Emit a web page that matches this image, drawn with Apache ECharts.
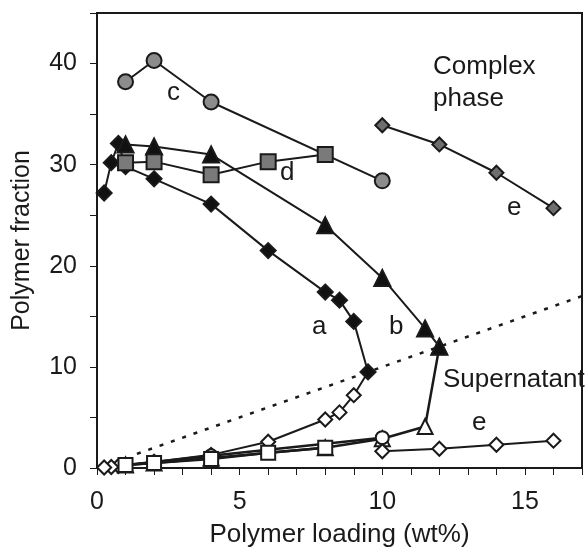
<!DOCTYPE html>
<html>
<head>
<meta charset="utf-8">
<script src="https://cdn.jsdelivr.net/npm/echarts@6/dist/echarts.min.js"></script>
<style>
  * { margin: 0; padding: 0; }
  html, body { width: 585px; height: 553px; background: #fff; }
  #main { width: 585px; height: 553px; }
</style>
</head>
<body>
<div id="main"></div>
<script>
// complex phase (filled) and supernatant (open) branches
var aX = [0.25, 0.5, 0.75, 1, 2, 4, 6, 8, 8.5, 9, 9.5];
var aY = [27.2, 30.2, 32.1, 29.8, 28.6, 26.1, 21.5, 17.4, 16.6, 14.5, 9.5];
var aSupX = [9.5, 9, 8.5, 8, 6, 4, 2, 1, 0.75, 0.5, 0.25];
var aSupY = [9.5, 7.2, 5.5, 4.8, 2.6, 1.3, 0.6, 0.3, 0.2, 0.1, 0.05];

var bX = [1, 2, 4, 8, 10, 11.5, 12];
var bY = [32.0, 31.8, 31.0, 24.0, 18.8, 13.8, 12.0];
var bSupX = [12, 11.5, 10, 8, 4, 2, 1];
var bSupY = [12.0, 4.1, 2.9, 2.0, 1.0, 0.5, 0.3];

var cX = [1, 2, 4, 10];
var cY = [38.2, 40.3, 36.2, 28.4];
var cSupX = [1, 2, 4, 10];
var cSupY = [0.3, 0.6, 1.2, 3.0];

var dX = [1, 2, 4, 6, 8];
var dY = [30.2, 30.3, 29.0, 30.3, 31.0];
var dSupX = [1, 2, 4, 6, 8];
var dSupY = [0.3, 0.5, 0.9, 1.5, 2.0];

var eX = [10, 12, 14, 16];
var eY = [33.9, 32.0, 29.2, 25.7];
var eSupX = [10, 12, 14, 16];
var eSupY = [1.65, 1.9, 2.3, 2.7];

// dotted diagonal y = x
var diagX = [1.4, 17];
var diagY = [1.4, 17];

function pts(xs, ys) {
  return xs.map(function (x, i) { return [x, ys[i]]; });
}

var font = '"Liberation Sans", Arial, sans-serif';
var ink = '#1a1a1a';

function line(name, xs, ys, symbol, size, fill, z, lw) {
  return {
    name: name,
    type: 'line',
    data: pts(xs, ys),
    symbol: symbol,
    symbolSize: size,
    showSymbol: true,
    z: z || 2,
    lineStyle: { color: ink, width: lw || 2 },
    itemStyle: { color: fill, borderColor: ink, borderWidth: 2 },
    emphasis: { disabled: true },
    animation: false
  };
}

var chart = echarts.init(document.getElementById('main'));
chart.setOption({
  animation: false,
  grid: {
    left: 97, right: 2, top: 13, bottom: 85,
    show: true, borderColor: ink, borderWidth: 2
  },
  xAxis: {
    type: 'value', min: 0, max: 17, interval: 1,
    name: 'Polymer loading (wt%)', nameLocation: 'middle', nameGap: 54,
    nameTextStyle: { fontFamily: font, fontSize: 26, color: ink },
    axisLine: { lineStyle: { color: ink, width: 2 } },
    axisTick: { inside: false, length: 7, lineStyle: { color: ink, width: 1 } },
    axisLabel: {
      margin: 22, fontFamily: font, fontSize: 25, color: ink,
      formatter: function (v) { return v % 5 === 0 ? String(v) : ''; }
    },
    splitLine: { show: false }
  },
  yAxis: {
    type: 'value', min: 0, max: 45, interval: 5,
    name: 'Polymer fraction', nameLocation: 'middle', nameGap: 62,
    nameTextStyle: { fontFamily: font, fontSize: 25, color: ink },
    axisLine: { lineStyle: { color: ink, width: 2 } },
    axisTick: { inside: false, length: 7, lineStyle: { color: ink, width: 1 } },
    axisLabel: {
      margin: 20, fontFamily: font, fontSize: 25, color: ink,
      formatter: function (v) { return v % 10 === 0 && v < 45 ? String(v) : ''; }
    },
    splitLine: { show: false }
  },
  series: [
    {
      type: 'line', data: pts(diagX, diagY), symbol: 'none', z: 1,
      lineStyle: { color: ink, width: 2.5, type: [4, 8] }, animation: false
    },
    line('a sup', aSupX, aSupY, 'diamond', 14, '#fff', 2, 2),
    line('b sup', bSupX, bSupY, 'triangle', 15, '#fff', 2, 2.5),
    line('c sup', cSupX, cSupY, 'circle', 13, '#fff', 2, 2.5),
    line('d sup', dSupX, dSupY, 'rect', 14, '#fff', 2, 2.5),
    line('e sup', eSupX, eSupY, 'diamond', 14, '#fff', 2, 2),
    line('a', aX, aY, 'diamond', 15, '#111', 3, 2),
    line('b', bX, bY, 'triangle', 16, '#111', 3, 2),
    line('c', cX, cY, 'circle', 15, '#8c8c8c', 3, 2),
    line('d', dX, dY, 'rect', 15, '#7a7a7a', 3, 2),
    line('e', eX, eY, 'diamond', 14, '#6e6e6e', 3, 2)
  ],
  graphic: [
    { type: 'text', left: 433, top: 51, style: { text: 'Complex\nphase', font: '26px ' + font, fill: ink, lineHeight: 32 } },
    { type: 'text', left: 443, top: 367, style: { text: 'Supernatant', font: '26px ' + font, fill: ink } },
    { type: 'text', left: 167, top: 80, style: { text: 'c', font: '26px ' + font, fill: ink } },
    { type: 'text', left: 280, top: 160, style: { text: 'd', font: '26px ' + font, fill: ink } },
    { type: 'text', left: 312, top: 314, style: { text: 'a', font: '26px ' + font, fill: ink } },
    { type: 'text', left: 389, top: 314, style: { text: 'b', font: '26px ' + font, fill: ink } },
    { type: 'text', left: 507, top: 195, style: { text: 'e', font: '26px ' + font, fill: ink } },
    { type: 'text', left: 472, top: 410, style: { text: 'e', font: '26px ' + font, fill: ink } }
  ]
});
</script>
</body>
</html>
